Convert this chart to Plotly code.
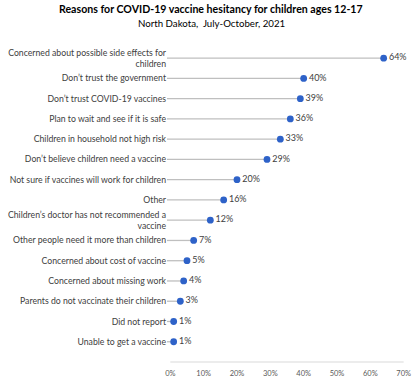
import plotly.graph_objects as go

categories = [
    "Concerned about possible side effects for<br>children",
    "Don’t trust the government",
    "Don’t trust COVID-19 vaccines",
    "Plan to wait and see if it is safe",
    "Children in household not high risk",
    "Don’t believe children need a vaccine",
    "Not sure if vaccines will work for children",
    "Other",
    "Children’s doctor has not recommended a<br>vaccine",
    "Other people need it more than children",
    "Concerned about cost of vaccine",
    "Concerned about missing work",
    "Parents do not vaccinate their children",
    "Did not report",
    "Unable to get a vaccine",
]
values = [64, 40, 39, 36, 33, 29, 20, 16, 12, 7, 5, 4, 3, 1, 1]
x_ticks = [0, 10, 20, 30, 40, 50, 60, 70]
x_ticklabels = [f"{v}%" for v in x_ticks]

FONT = "Lato"
ypos = list(range(len(categories)))

W, H = 420, 386
ML, MR, MT, MB = 167, 13, 48, 24

fig = go.Figure()

for y, v in zip(ypos, values):
    fig.add_trace(go.Scatter(
        x=[-1, v], y=[y, y], mode="lines",
        line=dict(color="#BFBFBF", width=1.3),
        hoverinfo="skip", showlegend=False))

fig.add_trace(go.Scatter(
    x=values, y=ypos, mode="markers+text",
    marker=dict(color="#2E62C8", size=6.8),
    text=[f"{v}%" for v in values], textposition="middle right",
    textfont=dict(family=FONT, size=9, color="#404040"),
    showlegend=False))

fig.add_shape(type="line", xref="x", yref="paper", x0=0, x1=70, y0=0, y1=0,
              line=dict(color="#D9D9D9", width=1))

fig.update_layout(
    width=W, height=H,
    margin=dict(l=ML, r=MR, t=MT, b=MB, autoexpand=False),
    paper_bgcolor="white", plot_bgcolor="white",
    font=dict(family=FONT, color="#404040"),
    xaxis=dict(range=[-1, 71], tickvals=x_ticks, ticktext=x_ticklabels,
               showgrid=False, zeroline=False, showline=False, automargin=False,
               ticklabelstandoff=5,
               tickfont=dict(size=7.5, color="#595959"), ticks=""),
    yaxis=dict(range=[15, -0.5], tickvals=ypos, ticktext=categories,
               showgrid=False, zeroline=False, showline=False, ticks="",
               automargin=False,
               tickfont=dict(size=8.7, color="#404040")),
)

plot_h = H - MT - MB
plot_w = W - ML - MR
def py(pix):
    return (H - MB - pix) / plot_h
def px(pix):
    return (pix - ML) / plot_w

fig.add_annotation(text="<b>Reasons for COVID-19 vaccine hesitancy for children ages 12-17</b>",
                   x=px(211), xref="paper", y=py(9), yref="paper",
                   showarrow=False, xanchor="center", yanchor="middle",
                   font=dict(family=FONT, size=10.6, color="#000000"))
fig.add_annotation(text="North Dakota,  July-October, 2021",
                   x=px(211), xref="paper", y=py(23), yref="paper",
                   showarrow=False, xanchor="center", yanchor="middle",
                   font=dict(family=FONT, size=9.7, color="#000000"))

fig.write_html("out.html",
               config={"displayModeBar": False},
               post_script="document.body.style.margin='0';document.body.style.overflow='hidden';")
